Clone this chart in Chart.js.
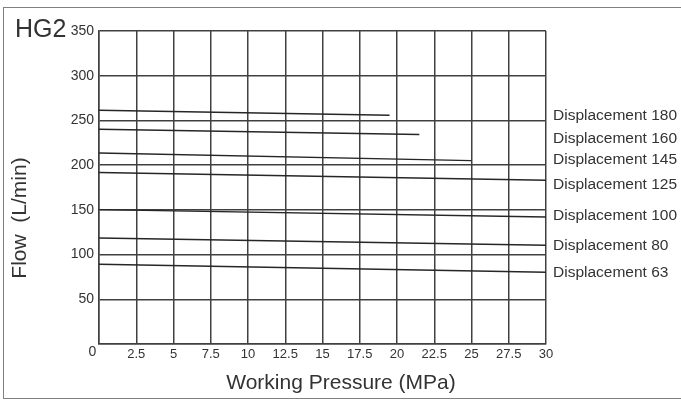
<!DOCTYPE html>
<html>
<head>
<meta charset="utf-8">
<script src="https://cdn.jsdelivr.net/npm/chart.js@4.4.1/dist/chart.umd.min.js"></script>
<style>
    html, body { margin: 0; padding: 0; background: #fff; }
    #wrap { position: relative; width: 681px; height: 402px; }
    #frame {
        position: absolute; left: 3px; top: 7px; width: 680px; height: 392px;
        border: 1.5px solid #808080; border-right: none; box-sizing: border-box;
    }
    canvas { position: absolute; left: 0; top: 0; }
</style>
</head>
<body>
<div id="wrap">
    <div id="frame"></div>
    <canvas id="chart" width="681" height="402"></canvas>
</div>
<script>
// Values
const displacements = [180, 160, 145, 125, 100, 80, 63];
const startFlow = [261.4, 240.2, 213.6, 191.7, 150.3, 118.6, 89.1];
const endPressure = [19.5, 21.5, 25, 30, 30, 30, 30];
const endFlow = [255.8, 234.2, 205.1, 183.1, 142, 110.4, 80.2];

const pressureTicks = { min: 0, max: 30, step: 2.5 };
const flowTicks = { min: 0, max: 350, step: 50 };

const ink = '#333333';
const gridInk = '#404040';
const font = 'Liberation Sans, Arial, sans-serif';
// small pixel nudges so the right-hand labels don't crowd each other
const labelNudge = [0, 4, -1, 4, -1, 0, 0];

const datasets = displacements.map((d, i) => ({
    label: 'Displacement ' + d,
    data: [
        { x: 0, y: startFlow[i] },
        { x: endPressure[i], y: endFlow[i] }
    ],
    borderColor: '#262626',
    borderWidth: 1.4,
    pointRadius: 0,
    fill: false
}));

// Texts around the plot: title, axis titles, shared zero, right-hand labels
const annotations = {
    id: 'annotations',
    afterDraw(chart) {
        const { ctx, scales: { x, y } } = chart;
        ctx.save();
        ctx.fillStyle = ink;

        ctx.font = '25px ' + font;
        ctx.textAlign = 'left';
        ctx.textBaseline = 'middle';
        ctx.fillText('HG2', 15, 30);

        ctx.font = '14px ' + font;
        ctx.textAlign = 'center';
        ctx.fillText('0', x.left - 6.5, y.bottom + 8.5);

        ctx.font = '21px ' + font;
        ctx.fillText('Working Pressure (MPa)', 341, 383);

        ctx.save();
        ctx.translate(20, 218);
        ctx.rotate(-Math.PI / 2);
        ctx.fillText('Flow  (L/min)', 0, 0);
        ctx.restore();

        ctx.font = '15.5px ' + font;
        ctx.textAlign = 'left';
        displacements.forEach((d, i) => {
            ctx.fillText('Displacement ' + d, x.right + 7, y.getPixelForValue(endFlow[i]) + labelNudge[i]);
        });
        ctx.restore();
    }
};

new Chart(document.getElementById('chart'), {
    type: 'line',
    data: { datasets },
    options: {
        responsive: false,
        animation: false,
        events: [],
        layout: { padding: { left: 0, right: 135, top: 31, bottom: 0 } },
        plugins: {
            legend: { display: false },
            tooltip: { enabled: false }
        },
        scales: {
            x: {
                type: 'linear',
                min: pressureTicks.min,
                max: pressureTicks.max,
                afterFit: (scale) => { scale.height = 58; },
                border: { color: gridInk, width: 1.5 },
                grid: { color: gridInk, lineWidth: 1.5, drawTicks: false },
                ticks: {
                    stepSize: pressureTicks.step,
                    color: ink,
                    padding: 3,
                    maxRotation: 0,
                    font: { family: font, size: 13 },
                    callback: (v) => (v === 0 ? '' : v)
                }
            },
            y: {
                min: flowTicks.min,
                max: flowTicks.max,
                afterFit: (scale) => { scale.width = 99; },
                border: { color: gridInk, width: 1.5 },
                grid: { color: gridInk, lineWidth: 1.5, drawTicks: false },
                ticks: {
                    stepSize: flowTicks.step,
                    color: ink,
                    padding: 5,
                    font: { family: font, size: 14 },
                    callback: (v) => (v === 0 ? '' : v)
                }
            }
        }
    },
    plugins: [annotations]
});
</script>
</body>
</html>
